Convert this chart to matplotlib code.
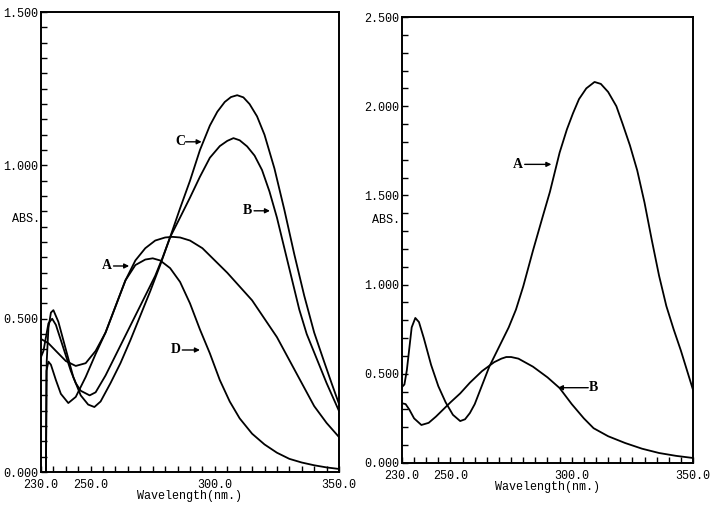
import numpy as np
import matplotlib
matplotlib.use("Agg")
import matplotlib.pyplot as plt
from matplotlib.ticker import MultipleLocator, FixedLocator, FormatStrFormatter

plt.rcParams.update({
    "font.family": ["Liberation Mono", "DejaVu Sans Mono"],
    "font.size": 8.5,
    "axes.linewidth": 1.4,
})

# ---- left panel (four spectra) ----
left_A_nm = [230, 233, 236, 240, 244, 248, 252, 256, 260, 264, 268, 272, 276, 280, 283, 286,
             290, 295, 300, 305, 310, 315, 320, 325, 330, 335, 340, 345, 350]
left_A_abs = [0.434, 0.42, 0.395, 0.362, 0.346, 0.355, 0.395, 0.455, 0.54, 0.625, 0.69, 0.73, 0.755,
              0.765, 0.767, 0.765, 0.755, 0.73, 0.69, 0.65, 0.605, 0.56, 0.5, 0.44, 0.365, 0.29,
              0.215, 0.16, 0.114]

left_B_nm = [230, 231, 232, 233, 234.5, 236, 238, 240, 242, 244, 246, 249.6, 252, 256, 260, 264,
             268, 272, 276, 279, 282, 286, 290, 294, 298, 302, 305, 307.5, 310, 313, 316, 319,
             322, 325, 328, 331, 334, 337, 341, 345, 350]
left_B_abs = [0.375, 0.395, 0.44, 0.485, 0.5, 0.48, 0.43, 0.38, 0.33, 0.29, 0.265, 0.25, 0.26,
              0.315, 0.38, 0.445, 0.51, 0.575, 0.64, 0.7, 0.766, 0.83, 0.895, 0.963, 1.025, 1.063,
              1.08, 1.089, 1.082, 1.062, 1.032, 0.985, 0.915, 0.83, 0.73, 0.63, 0.53, 0.45, 0.37,
              0.29, 0.199]

left_C_nm = [232.0, 232.3, 233, 234, 235, 237, 240, 243, 246, 249, 251.5, 254, 258, 262, 266,
             270, 274, 278, 282, 286, 290, 294, 298, 301, 304, 306.5, 309, 311.5, 314, 317, 320,
             324, 328, 332, 336, 340, 344, 347, 350]
left_C_abs = [0.0, 0.36, 0.47, 0.52, 0.528, 0.49, 0.4, 0.31, 0.25, 0.22, 0.212, 0.23, 0.29,
              0.355, 0.43, 0.51, 0.59, 0.675, 0.766, 0.86, 0.95, 1.05, 1.13, 1.175, 1.207, 1.223,
              1.229, 1.222, 1.2, 1.16, 1.1, 0.99, 0.855, 0.71, 0.575, 0.455, 0.36, 0.29, 0.222]

left_D_nm = [232.0, 232.2, 233, 234, 236, 238, 241, 244, 248, 252, 256, 260, 264, 268, 272,
             275, 278, 282, 286, 290, 294, 298, 302, 306, 310, 315, 320, 325, 330, 335, 340,
             345, 350]
left_D_abs = [0.0, 0.33, 0.36, 0.35, 0.3, 0.255, 0.225, 0.245, 0.31, 0.385, 0.455, 0.54, 0.625,
              0.675, 0.693, 0.697, 0.69, 0.665, 0.62, 0.55, 0.465, 0.387, 0.3, 0.23, 0.175,
              0.125, 0.09, 0.063, 0.043, 0.031, 0.022, 0.015, 0.01]

# ---- right panel (two spectra) ----
right_A_nm = [230, 231, 232, 233, 234, 235.5, 237, 239, 242, 245, 248, 251, 254, 256, 258, 260,
              262, 266, 270, 274, 277, 280, 284, 288, 291, 295, 298, 300.5, 303, 306, 309.4,
              312, 315, 318.4, 321, 324, 327, 330, 333, 336, 339, 342, 345, 350]
right_A_abs = [0.426, 0.44, 0.52, 0.64, 0.76, 0.813, 0.79, 0.7, 0.55, 0.43, 0.34, 0.27, 0.235,
               0.245, 0.28, 0.33, 0.4, 0.54, 0.65, 0.76, 0.86, 0.99, 1.19, 1.38, 1.52, 1.74,
               1.87, 1.96, 2.04, 2.1, 2.136, 2.125, 2.08, 2.0, 1.9, 1.78, 1.64, 1.46, 1.25, 1.05,
               0.88, 0.75, 0.63, 0.41]

right_B_nm = [230, 231.5, 233, 235, 238, 241, 244, 247, 250, 254, 258, 263, 268, 271, 273, 275,
              278, 284, 290, 295, 300, 305, 309, 315, 322, 329, 336, 343, 350]
right_B_abs = [0.335, 0.33, 0.3, 0.25, 0.213, 0.225, 0.26, 0.3, 0.34, 0.39, 0.45, 0.515, 0.565,
               0.585, 0.594, 0.594, 0.585, 0.54, 0.48, 0.42, 0.33, 0.25, 0.195, 0.15, 0.112,
               0.08, 0.056, 0.04, 0.028]

x_ticks = [230, 250, 300, 350]
x_labels = ["230.0", "250.0", "300.0", "350.0"]

fig = plt.figure(figsize=(7.14, 5.05), dpi=100)
ax1 = fig.add_axes([0.0574, 0.0653, 0.4174, 0.9107])
ax2 = fig.add_axes([0.563, 0.0832, 0.4076, 0.8831])

line_kw = dict(color="black", linewidth=1.3)


def style_axis(ax, ymax, ystep_minor):
    ax.set_xlim(230, 350)
    ax.set_ylim(0, ymax)
    ax.xaxis.set_major_locator(FixedLocator(x_ticks))
    ax.set_xticklabels(x_labels)
    ax.xaxis.set_minor_locator(MultipleLocator(5))
    ax.yaxis.set_major_locator(MultipleLocator(0.5))
    ax.yaxis.set_minor_locator(MultipleLocator(ystep_minor))
    ax.yaxis.set_major_formatter(FormatStrFormatter("%.3f"))
    ax.tick_params(which="both", direction="in", length=4, width=1, pad=2)
    ax.tick_params(axis="x", which="major", pad=5)
    ax.set_xlabel("Wavelength(nm.)", labelpad=-1)


def tag(ax, letter, text_xy, tail, head):
    ax.text(*text_xy, letter, fontsize=10, fontweight="bold",
            family="Liberation Serif", ha="center", va="center")
    ax.annotate("", xy=head, xytext=tail,
                arrowprops=dict(arrowstyle="-|>", color="black", lw=1.0,
                                mutation_scale=7, shrinkA=0, shrinkB=0))


# left
ax1.plot(left_A_nm, left_A_abs, **line_kw)
ax1.plot(left_B_nm, left_B_abs, **line_kw)
ax1.plot(left_C_nm, left_C_abs, **line_kw)
ax1.plot(left_D_nm, left_D_abs, **line_kw)
style_axis(ax1, 1.5, 0.05)
ax1.text(-0.05, 0.55, "ABS.", transform=ax1.transAxes, ha="center", va="center")
tag(ax1, "A", (256.6, 0.672), (259.2, 0.672), (265.5, 0.672))
tag(ax1, "C", (286.0, 1.077), (288.2, 1.077), (294.7, 1.077))
tag(ax1, "B", (313.1, 0.852), (315.8, 0.852), (322.2, 0.852))
tag(ax1, "D", (284.2, 0.398), (286.9, 0.398), (294.0, 0.398))

# right
ax2.plot(right_A_nm, right_A_abs, **line_kw)
ax2.plot(right_B_nm, right_B_abs, **line_kw)
style_axis(ax2, 2.5, 0.1)
ax2.text(-0.055, 0.545, "ABS.", transform=ax2.transAxes, ha="center", va="center")
tag(ax2, "A", (277.9, 1.674), (280.6, 1.674), (291.6, 1.674))
tag(ax2, "B", (308.9, 0.422), (306.8, 0.422), (294.3, 0.422))

fig.savefig("out.png", dpi=100)
